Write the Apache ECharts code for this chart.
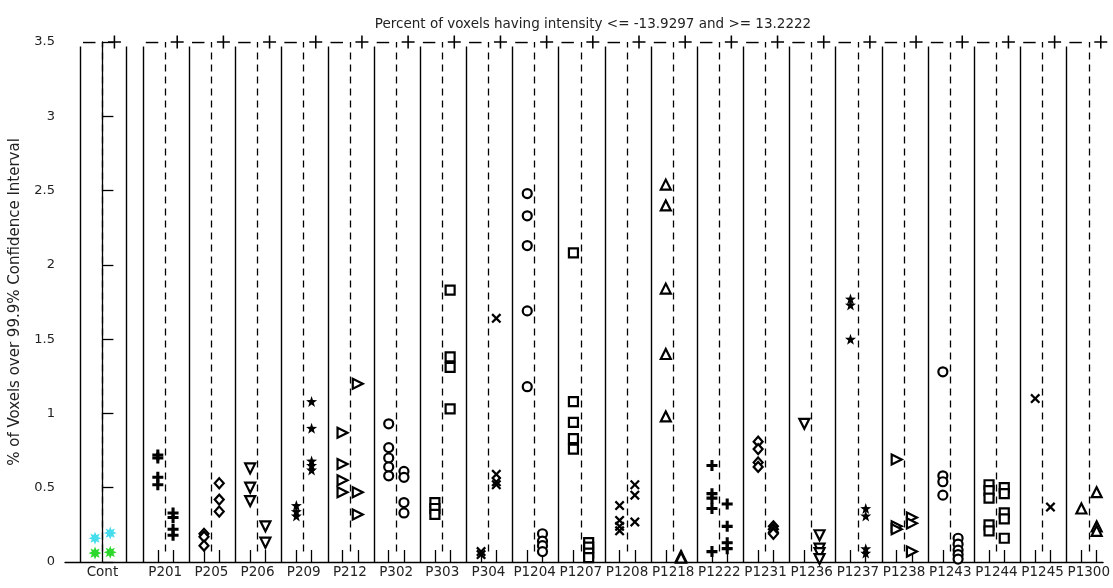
<!DOCTYPE html>
<html>
<head>
<meta charset="utf-8">
<script src="https://cdn.jsdelivr.net/npm/echarts@6/dist/echarts.min.js"></script>
<style>
  html, body { margin: 0; padding: 0; background: #fff; }
  #chart { width: 1113px; height: 588px; }
</style>
</head>
<body>
<div id="chart"></div>
<script>
// groups along the x axis (Cont sits a bit apart from the patients)
const groups = ['Cont', 'P201', 'P205', 'P206', 'P209', 'P212', 'P302', 'P303', 'P304',
  'P1204', 'P1207', 'P1208', 'P1218', 'P1222', 'P1231', 'P1236', 'P1237', 'P1238',
  'P1243', 'P1244', 'P1245', 'P1300'];

// % of voxels, left column of each group
const leftVals = [
  [0.16, 0.06],
  [0.72, 0.70, 0.57, 0.52],
  [0.19, 0.17, 0.11],
  [0.63, 0.50, 0.41],
  [0.38, 0.34, 0.31],
  [0.87, 0.66, 0.55, 0.47],
  [0.93, 0.77, 0.70, 0.64, 0.58],
  [0.40, 0.36, 0.32],
  [0.07, 0.05],
  [2.48, 2.33, 2.13, 1.69, 1.18],
  [2.08, 1.08, 0.94, 0.83, 0.76],
  [0.38, 0.28, 0.24, 0.21],
  [2.54, 2.40, 1.84, 1.40, 0.98],
  [0.65, 0.46, 0.43, 0.36, 0.07],
  [0.81, 0.76, 0.67, 0.64],
  [0.93],
  [1.77, 1.73, 1.50],
  [0.69, 0.24, 0.22],
  [1.28, 0.58, 0.54, 0.45],
  [0.52, 0.48, 0.43, 0.25, 0.21],
  [1.10],
  [0.36]
];

// % of voxels, right column of each group
const rightVals = [
  [0.195, 0.065],
  [0.33, 0.30, 0.22, 0.18],
  [0.53, 0.42, 0.34],
  [0.24, 0.13],
  [1.08, 0.90, 0.68, 0.65, 0.62],
  [1.20, 0.47, 0.32],
  [0.61, 0.57, 0.40, 0.33],
  [1.83, 1.38, 1.31, 1.03],
  [1.64, 0.59, 0.54, 0.52],
  [0.19, 0.14, 0.11, 0.07],
  [0.13, 0.10, 0.06, 0.03],
  [0.52, 0.45, 0.27],
  [0.04, 0.03],
  [0.39, 0.24, 0.13, 0.09],
  [0.24, 0.22, 0.20, 0.19],
  [0.18, 0.09, 0.06, 0.02],
  [0.36, 0.31, 0.09, 0.06],
  [0.30, 0.26, 0.07],
  [0.16, 0.12, 0.08, 0.05, 0.02],
  [0.50, 0.46, 0.33, 0.29, 0.16],
  [0.37],
  [0.47, 0.24, 0.21]
];

// control points are coloured (cyan / green), per point
const contColors = ['#45dcec', '#2bd82b'];

const yTicks = [0, 0.5, 1, 1.5, 2, 2.5, 3, 3.5];
const topY = 3.5;

const markerOf = {
  Cont: 'ast', P201: 'plus', P205: 'diamond', P206: 'tdown', P209: 'star', P212: 'tright',
  P302: 'circle', P303: 'square', P304: 'x', P1204: 'circle', P1207: 'square', P1208: 'x',
  P1218: 'tup', P1222: 'plus', P1231: 'diamond', P1236: 'tdown', P1237: 'star',
  P1238: 'tright', P1243: 'circle', P1244: 'square', P1245: 'x', P1300: 'tup'
};

// symbol shapes
const PATHS = {
  plus: 'path://M3.6,0h2.8v3.6h3.6v2.8h-3.6v3.6h-2.8v-3.6h-3.6v-2.8h3.6z',
  thinPlus: 'path://M4.4,0h1.2v4.4h4.4v1.2h-4.4v4.4h-1.2v-4.4h-4.4v-1.2h4.4z',
  x: 'path://M1.6,0L5,3.4L8.4,0L10,1.6L6.6,5L10,8.4L8.4,10L5,6.6L1.6,10L0,8.4L3.4,5L0,1.6z',
  star: 'path://M5,0L6.2,3.5L10,3.6L7,5.9L8.1,9.5L5,7.4L1.9,9.5L3,5.9L0,3.6L3.8,3.5z',
  ast: 'path://M10,5L7.4,6L8.54,8.54L6,7.4L5,10L4,7.4L1.46,8.54L2.6,6L0,5L2.6,4L1.46,1.46L4,2.6L5,0L6,2.6L8.54,1.46L7.4,4z'
};

function symbolStyle(kind) {
  const hollow = { color: '#fff', borderColor: '#000', borderWidth: 2.2, opacity: 1 };
  const solid = { color: '#000', borderWidth: 0, opacity: 1 };
  switch (kind) {
    case 'plus': return { symbol: PATHS.plus, symbolSize: 11, itemStyle: solid };
    case 'x': return { symbol: PATHS.x, symbolSize: 10, itemStyle: solid };
    case 'star': return { symbol: PATHS.star, symbolSize: 11, itemStyle: solid };
    case 'ast': return { symbol: PATHS.ast, symbolSize: 13, itemStyle: { borderWidth: 0, opacity: 1 } };
    case 'circle': return { symbol: 'circle', symbolSize: 9, itemStyle: hollow };
    case 'square': return { symbol: 'rect', symbolSize: 9, itemStyle: hollow };
    case 'diamond': return { symbol: 'diamond', symbolSize: [9, 10], itemStyle: hollow };
    case 'tup': return { symbol: 'triangle', symbolSize: 10, itemStyle: hollow };
    case 'tdown': return { symbol: 'triangle', symbolSize: 10, symbolRotate: 180, itemStyle: hollow };
    case 'tright': return { symbol: 'triangle', symbolSize: 10, symbolRotate: -90, itemStyle: hollow };
  }
}

// x position of each group centre
const centers = groups.map((g, i) => (i === 0 ? 0 : i + 0.36));
const leftOff = -0.16, rightOff = 0.17;

const colTicks = [];
centers.forEach((c, i) => { if (i > 0) colTicks.push(c + leftOff, c + rightOff); });

// solid separators, dashed centre lines, top "—" and "+"
const solidLines = [];
const dashLines = [];
const topDashes = [];
const topPluses = [];
centers.forEach((c, i) => {
  solidLines.push({ coords: [[c - 0.48, 0], [c - 0.48, topY - 0.03]] });
  if (i === 0 || i === centers.length - 1) {
    solidLines.push({ coords: [[c + 0.51, 0], [c + 0.51, topY - 0.03]] });
  }
  dashLines.push({ coords: [[c, 0.07], [c, topY]] });
  topDashes.push({ coords: [[c - 0.42, topY], [c - 0.15, topY]] });
  topPluses.push([c + 0.26, topY]);
});

const series = [
  {
    type: 'lines', coordinateSystem: 'cartesian2d', silent: true, z: 1,
    lineStyle: { color: '#000', width: 1.4, type: 'solid', opacity: 1 },
    data: solidLines
  },
  {
    type: 'lines', coordinateSystem: 'cartesian2d', silent: true, z: 1,
    lineStyle: { color: '#000', width: 1.3, type: [7, 5], opacity: 1 },
    data: dashLines
  },
  {
    type: 'lines', coordinateSystem: 'cartesian2d', silent: true, z: 1,
    lineStyle: { color: '#000', width: 1.3, opacity: 1 },
    data: topDashes
  },
  {
    type: 'scatter', silent: true, z: 2,
    symbol: PATHS.thinPlus, symbolSize: 13,
    itemStyle: { color: '#000', opacity: 1 },
    data: topPluses
  }
];

groups.forEach((g, i) => {
  const c = centers[i];
  const st = symbolStyle(markerOf[g]);
  const pts = [];
  leftVals[i].forEach((v, k) => pts.push({ value: [c + leftOff, v], k }));
  rightVals[i].forEach((v, k) => pts.push({ value: [c + rightOff, v], k }));
  if (g === 'Cont') pts.forEach(p => { p.itemStyle = { color: contColors[p.k % 2], opacity: 1 }; });
  series.push(Object.assign({
    type: 'scatter', name: g, z: 3, silent: true,
    data: pts.map(p => (p.itemStyle ? { value: p.value, itemStyle: p.itemStyle } : p.value))
  }, st));
});

const textFont = { fontFamily: 'DejaVu Sans, Arial, sans-serif', color: '#222' };

const chart = echarts.init(document.getElementById('chart'));
chart.setOption({
  animation: false,
  backgroundColor: '#fff',
  title: {
    text: 'Percent of voxels having intensity <= -13.9297 and >= 13.2222',
    left: 588, top: 12, textAlign: 'center',
    textStyle: Object.assign({ fontSize: 13.5, fontWeight: 'normal' }, textFont)
  },
  grid: { left: 63, right: 0, top: 42, bottom: 26 },
  xAxis: {
    type: 'value',
    min: -0.81, max: 21.67,
    splitLine: { show: false },
    axisLine: { lineStyle: { color: '#000', width: 1.3 } },
    axisTick: { inside: true, length: 12, lineStyle: { color: '#000', width: 1.3 }, customValues: colTicks },
    axisLabel: Object.assign({
      fontSize: 13.5, margin: 3,
      customValues: centers,
      formatter: v => groups[centers.findIndex(c => Math.abs(c - v) < 1e-6)] || ''
    }, textFont)
  },
  yAxis: {
    type: 'value',
    min: 0, max: 3.5, interval: 0.5,
    name: '% of Voxels over 99.9% Confidence Interval',
    nameLocation: 'middle', nameGap: 42, nameRotate: 90,
    nameTextStyle: Object.assign({ fontSize: 15 }, textFont),
    splitLine: { show: false },
    axisLine: { show: true, lineStyle: { color: '#000', width: 1.3 } },
    axisTick: { show: true, inside: true, length: 11, lineStyle: { color: '#000', width: 1.3 }, customValues: yTicks },
    axisLabel: Object.assign({ fontSize: 13, margin: 10, customValues: yTicks }, textFont)
  },
  series: series
});
</script>
</body>
</html>
